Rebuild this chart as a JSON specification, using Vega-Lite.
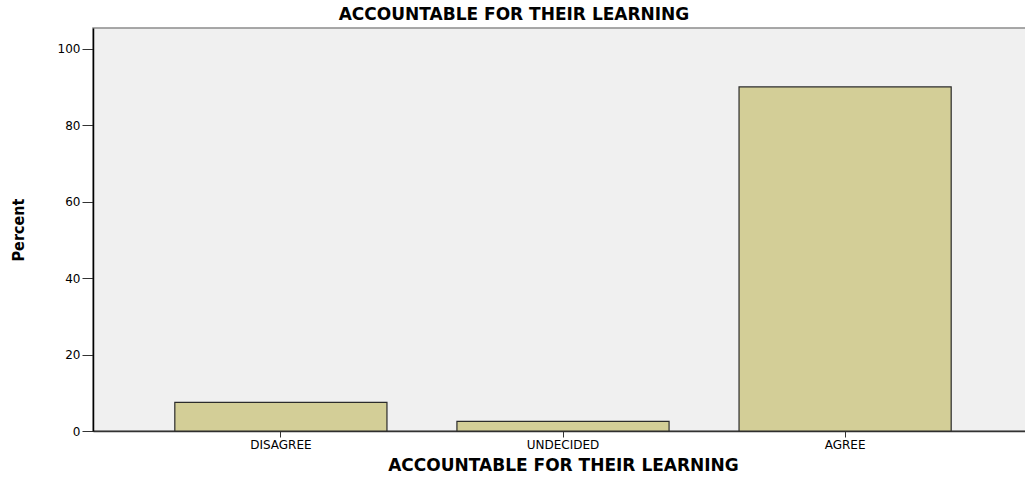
{
  "$schema": "https://vega.github.io/schema/vega-lite/v6.json",
  "width": 940,
  "height": 403,
  "autosize": {"type": "none"},
  "padding": {"left": 93, "top": 28, "right": 0, "bottom": 46},
  "background": "white",
  "title": {
    "text": "ACCOUNTABLE FOR THEIR LEARNING",
    "font": "DejaVu Sans",
    "fontSize": 17,
    "fontWeight": "bold",
    "color": "#000000",
    "anchor": "middle",
    "frame": "group",
    "dx": -49,
    "offset": 4
  },
  "data": {
    "values": [
      {"category": "DISAGREE", "percent": 7.5},
      {"category": "UNDECIDED", "percent": 2.5},
      {"category": "AGREE", "percent": 90.0}
    ]
  },
  "mark": {"type": "bar", "color": "#d3ce97", "stroke": "#2b2b2b", "strokeWidth": 1.2},
  "encoding": {
    "x": {
      "field": "category",
      "type": "nominal",
      "sort": ["DISAGREE", "UNDECIDED", "AGREE"],
      "scale": {"paddingInner": 0.248, "paddingOuter": 0.29},
      "axis": {
        "title": "ACCOUNTABLE FOR THEIR LEARNING",
        "titleFont": "DejaVu Sans",
        "titleFontSize": 17,
        "titleFontWeight": "bold",
        "titleColor": "#000000",
        "titlePadding": 7,
        "labelAngle": 0,
        "labelFont": "DejaVu Sans",
        "labelFontSize": 12,
        "labelColor": "#000000",
        "labelPadding": 2,
        "tickSize": 6,
        "tickColor": "#333333",
        "domainColor": "#333333",
        "domainWidth": 1.5
      }
    },
    "y": {
      "field": "percent",
      "type": "quantitative",
      "scale": {"domain": [0, 105.4], "nice": false},
      "axis": {
        "title": "Percent",
        "titleFont": "'DejaVu Sans Condensed', 'Liberation Sans Narrow', Roboto, sans-serif",
        "titleFontSize": 16,
        "titleFontWeight": "bold",
        "titleColor": "#000000",
        "titlePadding": 31,
        "values": [0, 20, 40, 60, 80, 100],
        "grid": false,
        "labelFont": "DejaVu Sans",
        "labelFontSize": 12,
        "labelColor": "#000000",
        "labelPadding": 2,
        "tickSize": 11,
        "tickColor": "#333333",
        "domainColor": "#000000",
        "domainWidth": 1.5
      }
    }
  },
  "config": {
    "view": {"fill": "#f0f0f0", "stroke": "#8c8c8c", "strokeWidth": 1.5}
  }
}
